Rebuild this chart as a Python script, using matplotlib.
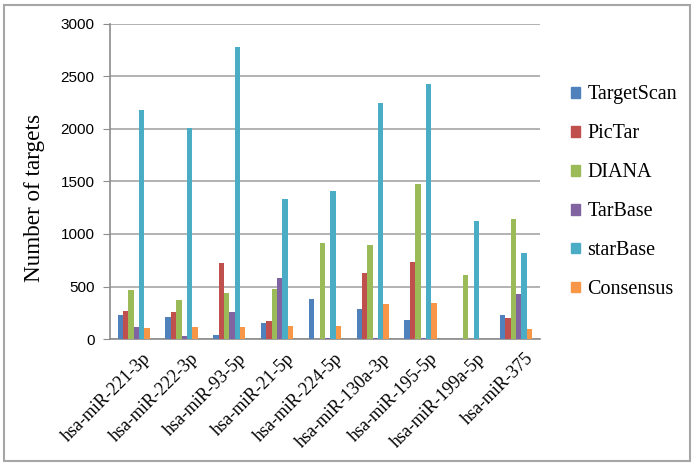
import matplotlib
matplotlib.use("Agg")
import matplotlib.pyplot as plt
import matplotlib.patches as mpatches
import numpy as np

categories = ["hsa-miR-221-3p", "hsa-miR-222-3p", "hsa-miR-93-5p", "hsa-miR-21-5p",
              "hsa-miR-224-5p", "hsa-miR-130a-3p", "hsa-miR-195-5p", "hsa-miR-199a-5p",
              "hsa-miR-375"]
series_names = ["TargetScan", "PicTar", "DIANA", "TarBase", "starBase", "Consensus"]
targetscan = [229, 206, 38, 155, 378, 282, 181, 0, 225]
pictar = [270, 260, 721, 171, 0, 632, 736, 0, 197]
diana = [467, 371, 435, 473, 911, 895, 1479, 610, 1140]
tarbase = [117, 29, 254, 578, 10, 10, 8, 3, 429]
starbase = [2181, 2013, 2781, 1330, 1406, 2244, 2431, 1127, 816]
consensus = [102, 111, 117, 124, 124, 333, 340, 0, 95]
yticks = [0, 500, 1000, 1500, 2000, 2500, 3000]

colors = ["#4F81BD", "#C0504D", "#9BBB59", "#8064A2", "#4BACC6", "#F79646"]
series = [targetscan, pictar, diana, tarbase, starbase, consensus]

fig = plt.figure(figsize=(6.95, 4.67), dpi=100)
ax = fig.add_axes([0.158, 0.274, 0.619, 0.675])

x = np.arange(len(categories))
bw = 0.112
for i, (vals, c, name) in enumerate(zip(series, colors, series_names)):
    ax.bar(x + (i - 2.5) * bw, vals, width=bw, color=c, label=name, zorder=3, linewidth=0)

ax.set_xlim(-0.5, len(categories) - 0.5)
ax.set_ylim(0, 3000)
ax.set_yticks(yticks)
ax.set_yticklabels([str(v) for v in yticks], fontfamily="Liberation Sans", fontsize=11)
ax.yaxis.grid(True, color="#A6A6A6", linewidth=1.2, zorder=0)
ax.set_axisbelow(True)
for s in ["top", "right"]:
    ax.spines[s].set_visible(False)
ax.spines["left"].set_color("#8C8C8C")
ax.spines["bottom"].set_color("#8C8C8C")
ax.spines["left"].set_linewidth(1.2)
ax.spines["bottom"].set_linewidth(1.2)
ax.tick_params(axis="y", direction="out", length=5, color="#8C8C8C", pad=6)
ax.tick_params(axis="x", length=0, pad=8)
ax.set_xticks(x + 0.18)
ax.set_xticklabels(categories, rotation=45, ha="right", rotation_mode="anchor",
                   fontfamily="Liberation Serif", fontsize=13)
ax.set_ylabel("Number of targets", fontfamily="Liberation Serif", fontsize=16.7)
ax.yaxis.set_label_coords(-0.15, 0.448)

handles = [mpatches.Patch(color=c, label=n) for c, n in zip(colors, series_names)]
leg = fig.legend(handles=handles, loc="upper left", bbox_to_anchor=(0.822, 0.817),
                 frameon=False, prop={"family": "Liberation Serif", "size": 14.5},
                 handlelength=0.45, handleheight=0.45, handletextpad=0.35, labelspacing=0.99,
                 borderaxespad=0, borderpad=0)

border = mpatches.Rectangle((0.006, 0.013), 0.987, 0.976, transform=fig.transFigure,
                            fill=False, edgecolor="#A6A6A6", linewidth=1.5)
fig.patches.append(border)

fig.savefig("out.png", dpi=100)
